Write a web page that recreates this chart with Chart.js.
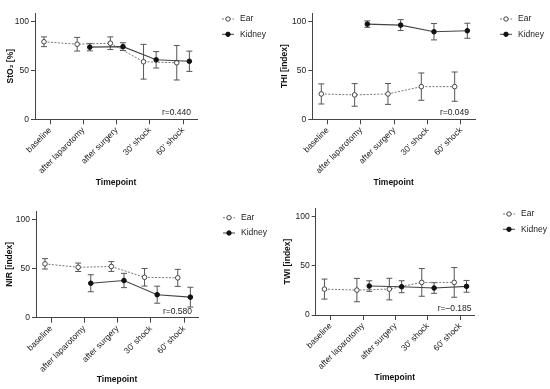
<!DOCTYPE html>
<html>
<head>
<meta charset="utf-8">
<script src="https://cdn.jsdelivr.net/npm/chart.js@4.4.3/dist/chart.umd.min.js"></script>
<style>
  html, body { margin: 0; padding: 0; background: #fff; }
  body { width: 550px; height: 389px; position: relative; overflow: hidden; }
  .panel { position: absolute; width: 275px; height: 195px; }
</style>
</head>
<body>
<div class="panel" style="left:0;top:0"><canvas id="sto2" width="275" height="195"></canvas></div>
<div class="panel" style="left:275px;top:0"><canvas id="thi" width="275" height="195"></canvas></div>
<div class="panel" style="left:0;top:195px"><canvas id="nir" width="275" height="195"></canvas></div>
<div class="panel" style="left:275px;top:195px"><canvas id="twi" width="275" height="195"></canvas></div>
<script>
// shared categories and axis ticks
const timepoints = ['baseline', 'after laparotomy', 'after surgery', "30' shock", "60' shock"];
const seriesNames = ['Ear', 'Kidney'];
const yTicks = [0, 50, 100];

// StO2 [%]
const sto2EarMean = [79.5, 77, 78, 59, 58];
const sto2EarSd = [5, 7, 6.5, 17.8, 17.7];
const sto2KidneyMean = [null, 74, 74.5, 61, 59.5];
const sto2KidneySd = [null, 3.8, 4, 8.4, 10.4];

// THI [index]
const thiEarMean = [26, 25, 26, 33.5, 33.5];
const thiEarSd = [10.3, 11.6, 10.7, 14, 15];
const thiKidneyMean = [null, 97.6, 96.6, 89.8, 90.8];
const thiKidneySd = [null, 3.3, 5.6, 8.4, 7.7];

// NIR [index]
const nirEarMean = [55, 51.5, 52.3, 41.3, 40.7];
const nirEarSd = [5.3, 4.3, 5, 9, 8.7];
const nirKidneyMean = [null, 35.2, 38, 23.5, 21];
const nirKidneySd = [null, 8.7, 7.3, 8.7, 10.1];

// TWI [index]
const twiEarMean = [26.4, 25.4, 26.4, 33.2, 33.2];
const twiEarSd = [10.2, 11.9, 11, 14.1, 15.1];
const twiKidneyMean = [null, 29.5, 28.8, 27.5, 29.2];
const twiKidneySd = [null, 5.4, 6.1, 5.4, 6];

const correlations = ['r=0.440', 'r=0.049', 'r=0.580', 'r=\u20130.185'];

const fontFamily = "'Liberation Sans', Arial, Helvetica, sans-serif";
Chart.defaults.font.family = fontFamily;
Chart.defaults.font.size = 8.5;
Chart.defaults.color = '#222';

// ear points sit left of the tick, kidney points right of it
const earShift = -0.19;
const kidneyShift = 0.19;

function toPoints(means, sds, shift) {
    return means
        .map((y, i) => (y === null ? null : { x: i + shift, y: y, sd: sds[i] }))
        .filter((p) => p !== null);
}

const errorBars = {
    id: 'errorBars',
    beforeDatasetsDraw(chart) {
        const { ctx, scales: { x, y } } = chart;
        ctx.save();
        ctx.strokeStyle = '#555';
        ctx.lineWidth = 1;
        for (const ds of chart.data.datasets) {
            for (const p of ds.data) {
                const px = x.getPixelForValue(p.x);
                const top = y.getPixelForValue(p.y + p.sd);
                const bot = y.getPixelForValue(p.y - p.sd);
                ctx.beginPath();
                ctx.moveTo(px, top); ctx.lineTo(px, bot);
                ctx.moveTo(px - 3, top); ctx.lineTo(px + 3, top);
                ctx.moveTo(px - 3, bot); ctx.lineTo(px + 3, bot);
                ctx.stroke();
            }
        }
        ctx.restore();
    }
};

const panelLegend = {
    id: 'panelLegend',
    afterDraw(chart, args, opts) {
        const { ctx, chartArea } = chart;
        ctx.save();
        ctx.lineWidth = 1;
        seriesNames.forEach((name, k) => {
            const y = opts.y + k * 15.3;
            const x0 = opts.x;
            ctx.strokeStyle = k === 0 ? '#777' : '#444';
            ctx.setLineDash(k === 0 ? [2, 1.5] : []);
            ctx.beginPath();
            ctx.moveTo(x0, y);
            ctx.lineTo(x0 + 12, y);
            ctx.stroke();
            ctx.setLineDash([]);
            ctx.beginPath();
            ctx.arc(x0 + 6, y, 2.2, 0, Math.PI * 2);
            ctx.fillStyle = k === 0 ? '#fff' : '#111';
            ctx.fill();
            ctx.strokeStyle = k === 0 ? '#444' : '#111';
            ctx.stroke();
            ctx.fillStyle = '#222';
            ctx.font = '8.5px ' + fontFamily;
            ctx.textBaseline = 'middle';
            ctx.textAlign = 'left';
            ctx.fillText(name, x0 + 18, y);
        });
        // correlation note in the lower right corner of the plot
        ctx.textAlign = 'right';
        ctx.fillText(opts.rText, chartArea.right + opts.rdx, chartArea.bottom - 6.5);
        ctx.restore();
    }
};

function makePanel(id, yTitle, earMean, earSd, kidneyMean, kidneySd, rText, box) {
    const ctx = document.getElementById(id);
    return new Chart(ctx, {
        type: 'line',
        data: {
            datasets: [
                {
                    label: 'Ear',
                    data: toPoints(earMean, earSd, earShift),
                    order: 1,
                    borderColor: '#777',
                    borderWidth: 1,
                    borderDash: [2, 1.5],
                    pointRadius: 2.3,
                    pointBorderWidth: 1,
                    pointBorderColor: '#444',
                    pointBackgroundColor: '#fff',
                    tension: 0,
                },
                {
                    label: 'Kidney',
                    data: toPoints(kidneyMean, kidneySd, kidneyShift),
                    order: 0,
                    borderColor: '#444',
                    borderWidth: 1.1,
                    pointRadius: 2.3,
                    pointBorderWidth: 1,
                    pointBorderColor: '#111',
                    pointBackgroundColor: '#111',
                    tension: 0,
                },
            ],
        },
        options: {
            responsive: false,
            animation: false,
            events: [],
            layout: { padding: { left: box.left, top: box.top, right: box.right, bottom: box.bottom } },
            scales: {
                x: {
                    type: 'linear',
                    min: -0.46,
                    max: 4.42,
                    afterBuildTicks: (axis) => { axis.ticks = timepoints.map((_, i) => ({ value: i })); },
                    afterFit: (axis) => { axis.height = box.xHeight; },
                    ticks: {
                        autoSkip: false,
                        minRotation: 45,
                        maxRotation: 45,
                        padding: 1,
                        color: '#222',
                        callback: (v) => timepoints[v],
                    },
                    grid: { drawOnChartArea: false, drawTicks: true, tickLength: 5, color: '#444' },
                    border: { display: true, color: '#444', width: 1 },
                    title: { display: true, text: 'Timepoint', color: '#111', padding: 0, font: { size: 8.5, weight: 'bold' } },
                },
                y: {
                    min: 0,
                    max: 109,
                    afterBuildTicks: (axis) => { axis.ticks = yTicks.map((v) => ({ value: v })); },
                    afterFit: (axis) => { axis.width = box.yWidth; },
                    ticks: { padding: 2, color: '#222' },
                    grid: { drawOnChartArea: false, drawTicks: true, tickLength: 4, color: '#444' },
                    border: { display: true, color: '#444', width: 1 },
                    title: { display: true, text: yTitle, color: '#111', padding: 0, font: { size: 8.5, weight: 'bold' } },
                },
            },
            plugins: {
                legend: { display: false },
                tooltip: { enabled: false },
                panelLegend: { x: box.legendX, y: box.legendY, rText: rText, rdx: box.rdx },
            },
        },
        plugins: [errorBars, panelLegend],
    });
}

makePanel('sto2', 'StO\u2082 [%]', sto2EarMean, sto2EarSd, sto2KidneyMean, sto2KidneySd, correlations[0],
    { left: 5.7, top: 13, right: 78, bottom: 6.9, yWidth: 29.3, xHeight: 68.8, legendX: 222, legendY: 19, rdx: -6 });
makePanel('thi', 'THI [index]', thiEarMean, thiEarSd, thiKidneyMean, thiKidneySd, correlations[1],
    { left: 4.6, top: 13, right: 75, bottom: 7.2, yWidth: 32.7, xHeight: 68.5, legendX: 225, legendY: 19, rdx: -6 });
makePanel('nir', 'NIR [index]', nirEarMean, nirEarSd, nirKidneyMean, nirKidneySd, correlations[2],
    { left: 4.6, top: 16, right: 77, bottom: 4.9, yWidth: 31.4, xHeight: 67.4, legendX: 223, legendY: 22.7, rdx: -6 });
makePanel('twi', 'TWI [index]', twiEarMean, twiEarSd, twiKidneyMean, twiKidneySd, correlations[3],
    { left: 7.9, top: 13, right: 76, bottom: 7.2, yWidth: 32.8, xHeight: 67.8, legendX: 228, legendY: 19, rdx: -2.5 });
</script>
</body>
</html>
